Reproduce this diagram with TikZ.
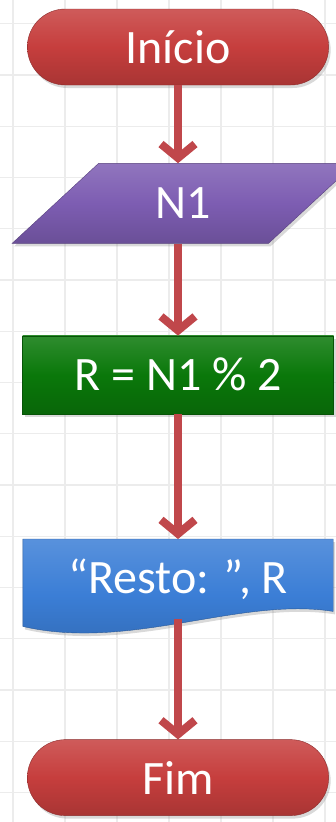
\documentclass[tikz,border=0pt]{standalone}
\usepackage{fontspec}
\setmainfont{Carlito}
\usetikzlibrary{arrows.meta,positioning,shapes.geometric,shapes.misc,shadows,backgrounds}
\definecolor{termred}{HTML}{C63E3D}
\definecolor{iopurple}{HTML}{7D5DB2}
\definecolor{procgreen}{HTML}{0A780A}
\definecolor{docblue}{HTML}{3B7ED6}
\definecolor{flowred}{HTML}{C0474B}
\definecolor{gridgray}{HTML}{ECECEC}

\begin{document}
\begin{tikzpicture}[x=1pt,y=-1pt,font=\fontsize{48}{50}\selectfont,
 shape3d/.style={text=white,drop shadow={opacity=0.3,shadow xshift=2pt,shadow yshift=-3pt}},
 term/.style={shape3d,rounded rectangle,draw=termred!70!black,top color=termred!85!white,bottom color=termred!85!black,middle color=termred,minimum width=308pt,minimum height=76pt},
 io/.style={shape3d,trapezium,trapezium left angle=50,trapezium right angle=130,trapezium stretches=true,draw=iopurple!70!black,top color=iopurple!85!white,bottom color=iopurple!85!black,middle color=iopurple,minimum width=343pt,minimum height=80pt},
 proc/.style={shape3d,rectangle,draw=procgreen!70!black,top color=procgreen!85!white,bottom color=procgreen!85!black,middle color=procgreen,minimum width=311pt,minimum height=78pt},
 doc/.style={rectangle,text=white,minimum width=310pt,minimum height=80pt},
 docfill/.style={draw=docblue!70!black,top color=docblue!85!white,bottom color=docblue!85!black,middle color=docblue,drop shadow={opacity=0.3,shadow xshift=2pt,shadow yshift=-3pt}},
 flow/.style={draw=flowred,line width=8pt,-{Straight Barb[length=14pt,width=34pt]}},
 gridline/.style={draw=gridgray,line width=1.2pt}]
\useasboundingbox (0,0) rectangle (336,822);
\begin{pgfonlayer}{background}
\foreach \gx in {13,65,...,325} \draw[gridline] (\gx,0) -- (\gx,822);
\foreach \gy in {23.75,75,...,800} \draw[gridline] (0,\gy) -- (336,\gy);
\end{pgfonlayer}
\node[term] (inicio) at (178,47) {Início};
\node[io,below=78pt of inicio,xshift=5.5pt] (n1) {N1};
\node[proc,below=92pt of n1,xshift=-5.5pt] (resto) {R = N1 \% 2};
\node[doc,below=125pt of resto] (saida) {“Resto: ”, R};
\node[term,below=120pt of saida] (fim) {Fim};
\begin{pgfonlayer}{background}
\path[docfill] (saida.north west) -- (saida.north east) -- ([yshift=8pt]saida.south east)
 .. controls ([xshift=-93pt,yshift=23pt]saida.south east) and ([xshift=107pt,yshift=-32pt]saida.south west) .. ([yshift=-7pt]saida.south west) -- cycle;
\end{pgfonlayer}
\draw[flow] (inicio.south) -- (inicio.south |- n1.north);
\draw[flow] (inicio.south |- n1.south) -- (resto.north);
\draw[flow] (resto.south) -- (saida.north);
\draw[flow] (saida.south) -- (fim.north);
\end{tikzpicture}
\end{document}
